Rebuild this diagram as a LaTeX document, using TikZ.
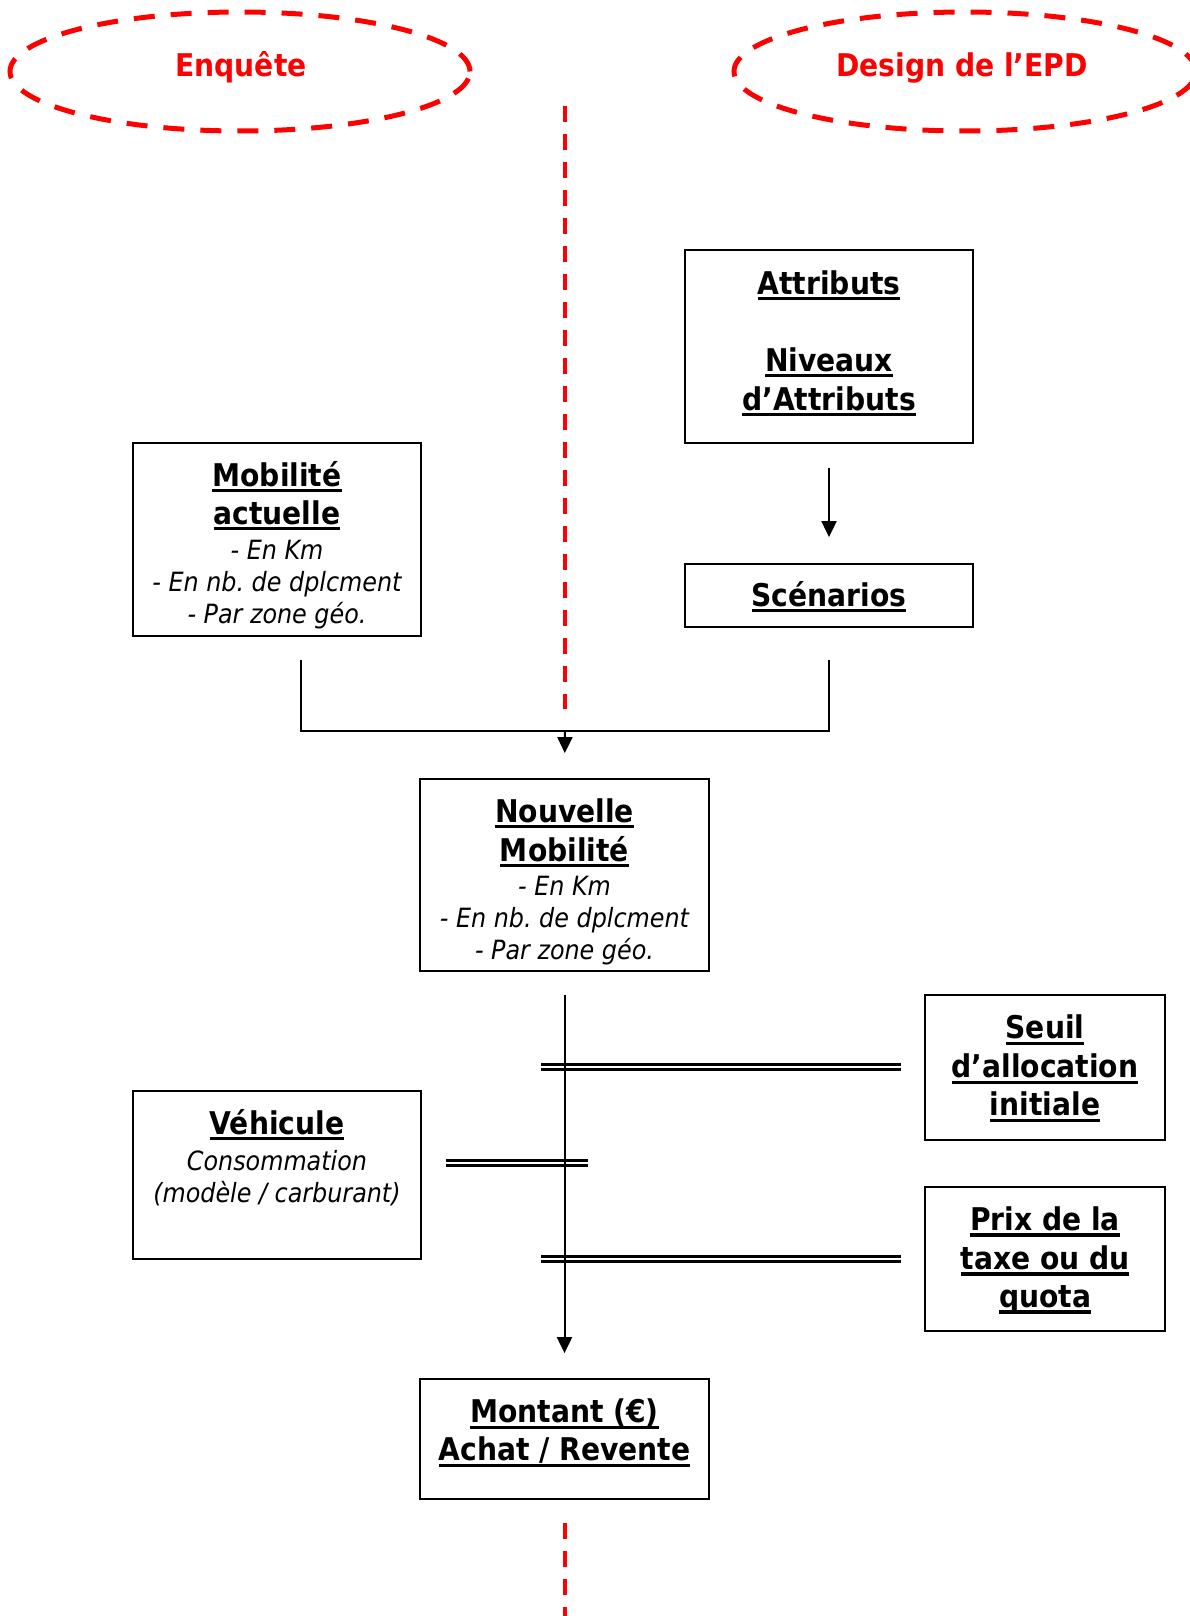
\documentclass[tikz,border=0pt]{standalone}
\usepackage{fontspec}
\setmainfont{DejaVu Sans Condensed}[BoldFont={DejaVu Sans Condensed Bold},ItalicFont={DejaVu Sans Condensed Oblique},BoldItalicFont={DejaVu Sans Condensed Bold Oblique}]
\usetikzlibrary{arrows.meta,shapes.geometric}
\frenchspacing
\newcommand\bsz{\fontsize{31.3}{38.5}\selectfont}
\newcommand\isz{\fontsize{26.5}{32}\selectfont\itshape}
\newcommand\ubf[1]{\setbox0=\hbox{\bfseries #1}\rlap{\rule[-6pt]{\wd0}{3.2pt}}\box0}
\begin{document}
\begin{tikzpicture}[x=1pt,y=-1pt,
  box/.style={draw, line width=1.8pt, inner sep=0pt},
  txt/.style={align=center, inner sep=0pt, font=\bsz},
  conn/.style={line width=2pt},
  arr/.style={conn, -{Triangle[width=15pt,length=16pt]}},
  dbl/.style={line width=2.5pt, double, double distance=2.4pt},
  reddash/.style={red, line width=4pt, dash pattern=on 16pt off 12pt},
  oval/.style={ellipse, draw=red, line width=5pt, dash pattern=on 21pt off 16pt, inner sep=0pt},
  head/.style={text=red, inner sep=0pt, font=\bsz\bfseries}]
\useasboundingbox (0,0) rectangle (1189,1616);
% headings
\node[oval, minimum width=460pt, minimum height=119pt] (ovalL) at (240,71.5) {};
\node[oval, minimum width=462pt, minimum height=119pt] (ovalR) at (965,71.5) {};
\node[head] (hL) at (241,67.5) {Enquête};
\node[head] (hR) at (962,67.5) {Design de l’EPD};
% red separator
\coordinate (r1) at (565,106);
\coordinate (r2) at (565,709);
\coordinate (r3) at (565,1523);
\coordinate (r4) at (565,1620);
\draw[reddash] (r1) -- (r2);
\draw[reddash] (r3) -- (r4);
% boxes
\node[box, minimum width=288pt, minimum height=193pt] (attr) at (829,346.5) {};
\node[box, minimum width=288pt, minimum height=193pt] (mob) at (277,539.5) {};
\node[box, minimum width=288pt, minimum height=63pt] (scen) at (829,595.5) {};
\node[box, minimum width=289pt, minimum height=192pt] (nouv) at (564.5,875) {};
\node[box, minimum width=240pt, minimum height=145pt] (seuil) at (1045,1067.5) {};
\node[box, minimum width=288pt, minimum height=168pt] (veh) at (277,1175) {};
\node[box, minimum width=240pt, minimum height=144pt] (prix) at (1045,1259) {};
\node[box, minimum width=289pt, minimum height=120pt] (mont) at (564.5,1439) {};
% texts
\node[txt] (attrT) at (829,343.5) {\ubf{Attributs}\\[38.5pt]\ubf{Niveaux}\\[0.5pt]\ubf{d’Attributs}};
\node[txt] (mobT) at (277,545) {\ubf{Mobilité}\\[-0.5pt]\ubf{actuelle}\\[-3.5pt]{\isz - En Km}\\[-6.5pt]{\isz - En nb. de dplcment}\\[-6.5pt]{\isz - Par zone géo.}};
\node[txt] (scenT) at (829,596.5) {\ubf{Scénarios}};
\node[txt] (nouvT) at (564.5,881.5) {\ubf{Nouvelle}\\[0.5pt]\ubf{Mobilité}\\[-4.5pt]{\isz - En Km}\\[-6.5pt]{\isz - En nb. de dplcment}\\[-6.5pt]{\isz - Par zone géo.}};
\node[txt] (seuilT) at (1045,1068.5) {\ubf{Seuil}\\[0.5pt]\ubf{d’allocation}\\[-0.5pt]\ubf{initiale}};
\node[txt] (vehT) at (277,1157.5) {\ubf{Véhicule}\\[-2pt]{\isz Consommation}\\[-7pt]{\isz (modèle / carburant)}};
\node[txt] (prixT) at (1045,1260.5) {\ubf{Prix de la}\\[0.5pt]\ubf{taxe ou du}\\[-0.5pt]\ubf{quota}};
\node[txt] (montT) at (564.5,1433) {\ubf{Montant (€)}\\[-0.5pt]\ubf{Achat / Revente}};
% connectors
\draw[arr, shorten <=24pt, shorten >=26pt] (attr.south) -- (scen.north);
\coordinate (join) at (565,731);
\draw[conn] ([xshift=24pt,yshift=-23pt]mob.south) |- (join) -| ([yshift=-32pt]scen.south);
\draw[arr, shorten >=25pt] (join) -- (nouv.north);
% double lines
\coordinate (d1a) at (541,1067);
\coordinate (d3a) at (541,1259);
\coordinate (d2b) at (588,1163);
\draw[dbl] (d1a) -- ([xshift=-23pt]seuil.west |- d1a);
\draw[dbl] ([xshift=24pt]veh.east |- d2b) -- (d2b);
\draw[dbl] (d3a) -- ([xshift=-23pt]prix.west |- d3a);
\draw[arr, shorten <=23pt, shorten >=25pt] (nouv.south) -- (mont.north);
\end{tikzpicture}
\end{document}
